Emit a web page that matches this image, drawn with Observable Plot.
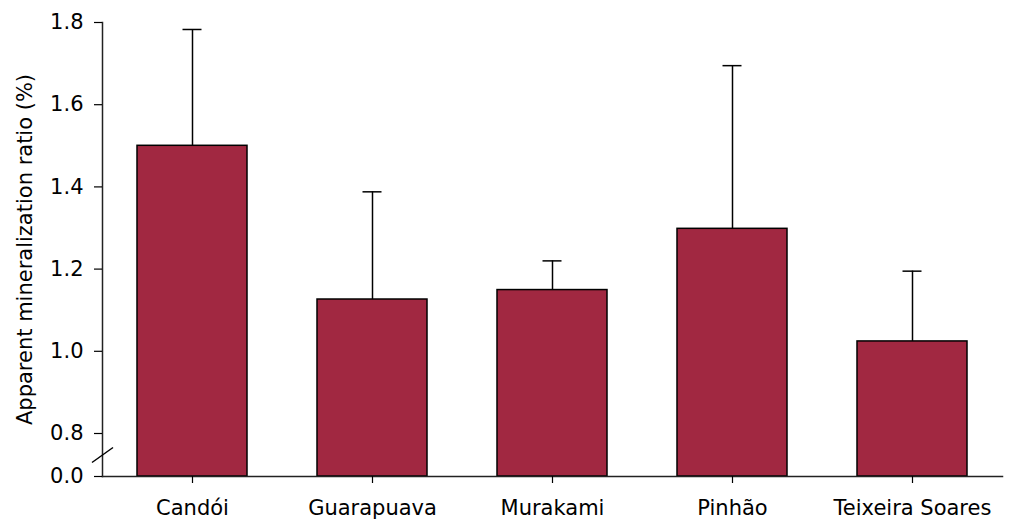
<!DOCTYPE html>
<html>
<head>
<meta charset="utf-8">
<script src="https://cdn.jsdelivr.net/npm/d3@7"></script>
<script src="https://cdn.jsdelivr.net/npm/@observablehq/plot@0.6"></script>
<style>
  html, body { margin: 0; padding: 0; background: #fff; }
  #chart { width: 1010px; height: 519px; }
</style>
</head>
<body>
<div id="chart"></div>
<script>
const sites = ["Candói", "Guarapuava", "Murakami", "Pinhão", "Teixeira Soares"];
const means = [1.50, 1.126, 1.149, 1.298, 1.024];
const upper = [1.783, 1.388, 1.22, 1.695, 1.195];
const yTicks = [0.0, 0.8, 1.0, 1.2, 1.4, 1.6, 1.8];
const yLabel = "Apparent mineralization ratio (%)";

const data = sites.map((s, i) => ({site: s, value: means[i], upper: upper[i]}));

const W = 1010, H = 519;
const mL = 102, mR = 8, mT = 22, mB = 43;
const font = "DejaVu Sans";

const axisBreak = (index, scales, values, dimensions) => {
  const g = d3.create("svg:g");
  const cx = dimensions.marginLeft + 0.5;
  const cy = (scales.y(0) + scales.y(0.8)) / 2 + 0.5;
  g.append("line")
    .attr("x1", cx - 10.5).attr("y1", cy + 7.5)
    .attr("x2", cx + 10.5).attr("y2", cy - 7.5)
    .attr("stroke", "#000").attr("stroke-width", 1.5);
  return g.node();
};

const chart = Plot.plot({
  width: W,
  height: H,
  marginLeft: mL,
  marginRight: mR,
  marginTop: mT,
  marginBottom: mB,
  style: {fontFamily: font, fontSize: "21px", color: "#000", background: "#fff"},
  x: {domain: sites, paddingInner: 0.39, paddingOuter: 0.195, label: null},
  y: {type: "linear", domain: [0, 0.8, 1.8], range: [H - mB, H - mB - 43, mT], label: null},
  marks: [
    Plot.ruleX(data, {x: "site", y1: "value", y2: "upper", stroke: "#000", strokeWidth: 1.5}),
    Plot.tickY(data, {x: "site", y: "upper", stroke: "#000", strokeWidth: 1.5, insetLeft: 45.5, insetRight: 45.5}),
    Plot.barY(data, {x: "site", y: "value", fill: "#A12841", stroke: "#000", strokeWidth: 1.5}),
    Plot.frame({anchor: "left", stroke: "#222", strokeWidth: 1.5}),
    Plot.frame({anchor: "bottom", stroke: "#222", strokeWidth: 1.5}),
    Plot.axisY({ticks: yTicks, tickFormat: d3.format(".1f"), tickSize: 8, tickPadding: 11, fontSize: 21, label: null, strokeWidth: 1.2}),
    Plot.axisX({tickSize: 7, tickPadding: 17, fontSize: 21, label: null, strokeWidth: 1.2}),
    Plot.text([yLabel], {frameAnchor: "left", dx: -77, rotate: -90, textAnchor: "middle", fontSize: 21, fill: "#000"}),
    axisBreak
  ]
});
document.getElementById("chart").appendChild(chart);
</script>
</body>
</html>
